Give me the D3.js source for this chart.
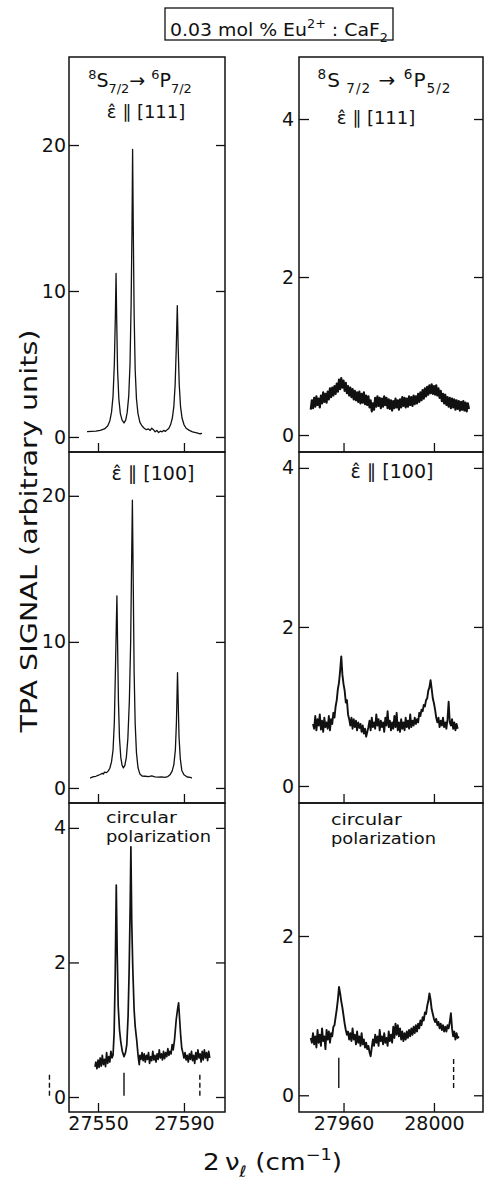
<!DOCTYPE html>
<html><head><meta charset="utf-8">
<script src="https://cdn.jsdelivr.net/npm/d3@7"></script>
<style>
body{margin:0;background:#fff}
svg{display:block}
text{font-family:"DejaVu Sans",sans-serif;fill:#111}
</style>
</head><body>
<svg id="chart" width="487" height="1182"></svg>
<script>
// ---------------- data ----------------
const xTicksLeft = [27550, 27590];
const xTicksRight = [27960, 28000];
const yTicksLarge = [0, 10, 20];
const yTicksSmall = [0, 2, 4];
const yTicksBottomRight = [0, 2];

// 8S7/2 -> 6P7/2, e || [111]
const specL111 = [[27544.9,.36],[27547,.38],[27549,.40],[27551,.45],[27553,.55],[27554.5,.75],[27555.5,1.1],[27556.3,1.7],[27557,2.8],[27557.6,5],[27558.1,8.5],[27558.4,11.2],[27558.7,8],[27559.1,4.6],[27559.7,2.6],[27560.4,1.6],[27561.2,1.15],[27562.1,.96],[27562.9,1.15],[27563.6,1.7],[27564.3,2.8],[27564.9,5],[27565.4,9],[27565.8,14],[27566.1,19.7],[27566.4,14.5],[27566.8,8.5],[27567.3,4.6],[27567.9,2.6],[27568.6,1.6],[27569.5,1.0],[27570.5,.75],[27571.5,.6],[27572.5,.5],[27573.5,.55],[27574.3,.45],[27575,.6],[27575.8,.5],[27576.6,.35],[27577.4,.45],[27578.2,.3],[27579,.4],[27579.8,.35],[27580.6,.45],[27581.4,.38],[27582.2,.5],[27583,.6],[27583.8,.85],[27584.6,1.3],[27585.3,2.1],[27585.9,3.6],[27586.4,6],[27586.9,9.0],[27587.3,6.2],[27587.8,3.6],[27588.4,2.1],[27589.1,1.3],[27590,.85],[27591,.6],[27592.5,.45],[27594,.35],[27596,.28],[27597.5,.22],[27598.4,.25]];

// 8S7/2 -> 6P7/2, e || [100]
const specL100 = [[27546.3,.68],[27547,.72],[27548,.78],[27549,.8],[27550,.86],[27551,.92],[27552,1.0],[27552.5,.95],[27553,1.08],[27554,1.05],[27554.7,1.15],[27555.5,1.35],[27556.3,1.8],[27557,2.6],[27557.6,4.5],[27558.1,8],[27558.5,11],[27558.8,13.15],[27559.1,10],[27559.5,6],[27560,3.4],[27560.6,2.1],[27561.2,1.55],[27561.8,1.37],[27562.5,1.55],[27563.2,2.1],[27563.9,3.4],[27564.6,6],[27565.2,10],[27565.6,15],[27566,19.7],[27566.4,14],[27566.8,8],[27567.3,4.4],[27567.9,2.4],[27568.6,1.4],[27569.5,.95],[27570.5,.82],[27572,.8],[27573.5,.78],[27575,.82],[27576.5,.76],[27578,.74],[27579.5,.76],[27581,.72],[27582.5,.78],[27583.5,.9],[27584.5,1.15],[27585.3,1.6],[27586,2.6],[27586.5,4.5],[27586.8,6.5],[27587,7.9],[27587.3,6],[27587.7,3.5],[27588.3,2],[27589,1.2],[27590,.9],[27591.5,.75],[27593,.72],[27593.7,.68]];

// 8S7/2 -> 6P7/2, circular polarization
const specLcirc = [[27548.6,.45],[27549,.52],[27549.5,.42],[27550,.55],[27550.5,.44],[27551,.58],[27551.5,.46],[27552,.62],[27552.5,.48],[27553,.56],[27553.5,.45],[27554,.66],[27554.5,.50],[27555,.60],[27555.5,.52],[27556,.68],[27556.5,.58],[27557,.62],[27557.5,.95],[27558,1.8],[27558.5,3.15],[27558.9,2.2],[27559.4,1.35],[27560,1.0],[27560.6,.82],[27561.3,.68],[27562.1,.6],[27562.8,.66],[27563.4,.78],[27564,1.2],[27564.5,1.9],[27565,2.9],[27565.3,3.72],[27565.7,2.6],[27566.2,1.9],[27566.8,1.3],[27567.3,1.05],[27568,.85],[27568.7,.6],[27569.2,.48],[27569.5,.62],[27570,.56],[27570.5,.66],[27571,.54],[27571.5,.64],[27572,.52],[27572.5,.62],[27573,.56],[27573.5,.66],[27574,.50],[27574.5,.60],[27575,.54],[27575.5,.68],[27576,.55],[27576.5,.62],[27577,.52],[27577.5,.64],[27578,.56],[27578.5,.70],[27579,.58],[27579.5,.64],[27580,.55],[27580.5,.68],[27581,.57],[27581.5,.66],[27582,.60],[27582.5,.72],[27583,.62],[27583.5,.68],[27584,.64],[27584.5,.78],[27585,.70],[27585.6,.85],[27586.4,1.15],[27587,1.3],[27587.5,1.4],[27588,1.15],[27588.5,.9],[27589,.72],[27589.5,.66],[27590,.58],[27590.5,.66],[27591,.55],[27591.5,.62],[27592,.52],[27592.5,.64],[27593,.56],[27593.5,.68],[27594,.54],[27594.5,.62],[27595,.50],[27595.5,.66],[27596,.56],[27596.5,.70],[27597,.58],[27597.5,.64],[27598,.52],[27598.5,.68],[27599,.55],[27599.5,.70],[27600,.58],[27600.5,.66],[27601,.54],[27601.5,.68],[27602,.58]];

// 8S7/2 -> 6P5/2, e || [111]
const specR111 = [[27945.5,.32],[27946,.44],[27946.5,.34],[27947,.47],[27947.5,.36],[27948,.49],[27948.5,.38],[27949,.46],[27949.5,.35],[27950,.50],[27950.5,.40],[27951,.54],[27951.5,.42],[27952,.52],[27952.5,.41],[27953,.55],[27953.5,.45],[27954,.59],[27954.5,.48],[27955,.60],[27955.5,.50],[27956,.62],[27956.5,.52],[27957,.65],[27957.5,.55],[27958,.70],[27958.5,.58],[27959,.72],[27959.5,.60],[27960,.69],[27960.5,.56],[27961,.66],[27961.5,.53],[27962,.62],[27962.5,.50],[27963,.60],[27963.5,.48],[27964,.58],[27964.5,.45],[27965,.56],[27965.5,.44],[27966,.54],[27966.5,.42],[27967,.55],[27967.5,.40],[27968,.52],[27968.5,.41],[27969,.54],[27969.5,.39],[27970,.50],[27970.5,.38],[27971,.49],[27971.5,.35],[27972,.44],[27972.5,.30],[27973,.40],[27973.5,.32],[27974,.47],[27974.5,.36],[27975,.49],[27975.5,.37],[27976,.47],[27976.5,.34],[27977,.46],[27977.5,.36],[27978,.49],[27978.5,.38],[27979,.47],[27979.5,.34],[27980,.45],[27980.5,.33],[27981,.44],[27981.5,.31],[27982,.43],[27982.5,.34],[27983,.46],[27983.5,.35],[27984,.44],[27984.5,.32],[27985,.45],[27985.5,.35],[27986,.48],[27986.5,.37],[27987,.47],[27987.5,.35],[27988,.46],[27988.5,.36],[27989,.49],[27989.5,.38],[27990,.48],[27990.5,.37],[27991,.50],[27991.5,.39],[27992,.49],[27992.5,.40],[27993,.52],[27993.5,.42],[27994,.54],[27994.5,.44],[27995,.57],[27995.5,.46],[27996,.59],[27996.5,.49],[27997,.61],[27997.5,.51],[27998,.63],[27998.5,.53],[27999,.64],[27999.5,.52],[28000,.62],[28000.5,.51],[28001,.63],[28001.5,.50],[28002,.59],[28002.5,.47],[28003,.56],[28003.5,.43],[28004,.52],[28004.5,.40],[28005,.51],[28005.5,.38],[28006,.48],[28006.5,.36],[28007,.47],[28007.5,.34],[28008,.46],[28008.5,.35],[28009,.45],[28009.5,.32],[28010,.44],[28010.5,.33],[28011,.43],[28011.5,.31],[28012,.42],[28012.5,.32],[28013,.43],[28013.5,.31],[28014,.41],[28014.5,.30],[28015,.40],[28015.5,.33]];

// 8S7/2 -> 6P5/2, e || [100]
const specR100 = [[27946.5,.78],[27947,.72],[27947.5,.88],[27948,.70],[27948.5,.84],[27949,.76],[27949.5,.90],[27950,.71],[27950.5,.82],[27951,.68],[27951.5,.86],[27952,.74],[27952.5,.80],[27953,.72],[27953.5,.88],[27954,.70],[27954.5,.84],[27955,.78],[27955.5,.92],[27956,.86],[27956.5,1.00],[27957,1.08],[27957.5,1.22],[27958,1.30],[27958.5,1.45],[27959,1.63],[27959.5,1.40],[27960,1.28],[27960.5,1.20],[27961,1.05],[27961.5,1.08],[27962,.90],[27962.5,.84],[27963,.76],[27963.5,.86],[27964,.72],[27964.5,.84],[27965,.74],[27965.5,.82],[27966,.70],[27966.5,.80],[27967,.73],[27967.5,.78],[27968,.68],[27968.5,.76],[27969,.66],[27969.5,.72],[27970,.62],[27970.5,.68],[27971,.74],[27971.5,.82],[27972,.70],[27972.5,.86],[27973,.74],[27973.5,.80],[27974,.72],[27974.5,.90],[27975,.76],[27975.5,.84],[27976,.70],[27976.5,.82],[27977,.74],[27977.5,.80],[27978,.68],[27978.5,.86],[27979,.76],[27979.5,.94],[27980,.74],[27980.5,.82],[27981,.70],[27981.5,.80],[27982,.72],[27982.5,.88],[27983,.74],[27983.5,.92],[27984,.70],[27984.5,.80],[27985,.68],[27985.5,.84],[27986,.72],[27986.5,.80],[27987,.70],[27987.5,.86],[27988,.74],[27988.5,.82],[27989,.72],[27989.5,.90],[27990,.74],[27990.5,.82],[27991,.76],[27991.5,.86],[27992,.78],[27992.5,.84],[27993,.80],[27993.5,.92],[27994,.88],[27994.5,.96],[27995,.94],[27995.5,1.02],[27996,1.00],[27996.5,1.08],[27997,1.10],[27997.5,1.20],[27998,1.24],[27998.5,1.33],[27999,1.22],[27999.5,1.10],[28000,1.04],[28000.5,.96],[28001,.86],[28001.5,.80],[28002,.86],[28002.5,.74],[28003,.82],[28003.5,.76],[28004,.86],[28004.5,.74],[28005,.80],[28005.5,.72],[28006,.84],[28006.5,1.06],[28007,.80],[28007.5,.76],[28008,.84],[28008.5,.72],[28009,.80],[28009.5,.70],[28010,.78],[28010.5,.72]];

// 8S7/2 -> 6P5/2, circular polarization
const specRcirc = [[27945.5,.72],[27946,.66],[27946.5,.78],[27947,.64],[27947.5,.74],[27948,.60],[27948.5,.82],[27949,.66],[27949.5,.76],[27950,.62],[27950.5,.84],[27951,.68],[27951.5,.74],[27952,.58],[27952.5,.82],[27953,.70],[27953.5,.80],[27954,.66],[27954.5,.78],[27955,.74],[27955.5,.86],[27956,.88],[27956.5,.98],[27957,1.08],[27957.5,1.20],[27958,1.36],[27958.5,1.28],[27959,1.18],[27959.5,1.10],[27960,1.00],[27960.5,.90],[27961,.82],[27961.5,.76],[27962,.80],[27962.5,.70],[27963,.78],[27963.5,.68],[27964,.84],[27964.5,.70],[27965,.76],[27965.5,.64],[27966,.80],[27966.5,.66],[27967,.74],[27967.5,.62],[27968,.78],[27968.5,.64],[27969,.70],[27969.5,.60],[27970,.66],[27970.5,.58],[27971,.62],[27971.5,.54],[27972,.49],[27972.5,.60],[27973,.70],[27973.5,.62],[27974,.76],[27974.5,.66],[27975,.74],[27975.5,.62],[27976,.82],[27976.5,.68],[27977,.74],[27977.5,.64],[27978,.78],[27978.5,.66],[27979,.72],[27979.5,.62],[27980,.80],[27980.5,.68],[27981,.76],[27981.5,.66],[27982,.86],[27982.5,.72],[27983,.90],[27983.5,.76],[27984,.88],[27984.5,.74],[27985,.84],[27985.5,.70],[27986,.80],[27986.5,.68],[27987,.78],[27987.5,.70],[27988,.80],[27988.5,.72],[27989,.82],[27989.5,.74],[27990,.84],[27990.5,.76],[27991,.86],[27991.5,.78],[27992,.88],[27992.5,.80],[27993,.90],[27993.5,.84],[27994,.94],[27994.5,.88],[27995,.98],[27995.5,.94],[27996,1.04],[27996.5,1.02],[27997,1.12],[27997.5,1.18],[27998,1.28],[27998.5,1.20],[27999,1.08],[27999.5,1.02],[28000,.96],[28000.5,.92],[28001,.96],[28001.5,.88],[28002,.92],[28002.5,.84],[28003,.90],[28003.5,.82],[28004,.88],[28004.5,.80],[28005,.86],[28005.5,.80],[28006,.88],[28006.5,.84],[28007,.92],[28007.5,1.03],[28008,.84],[28008.5,.74],[28009,.80],[28009.5,.70],[28010,.78],[28010.5,.72],[28011,.74]];

// line-position markers under the circular-polarization traces
const marksSolidLeft = [27562.1];
const marksDashedLeft = [27527.4, 27597.4];
const marksSolidRight = [27957.9];
const marksDashedRight = [28008.7];
const markSpanLeft = [0.02, 0.36];
const markSpanRight = [0.09, 0.47];

const titleParts = [["0.03 mol % Eu","n"],["2+","sup"],[" : CaF","n"],["2","sub"]];
const headL1 = [["8","sup"],["S","n"],["7/2","sub"],["\u2192 ","n"],["6","sup"],["P","n"],["7/2","sub"]];
const headR1 = [["8","sup"],["S","n"],[" 7/2","sub"],[" \u2192 ","n"],["6","sup"],["P","n"],["5/2","sub"]];
const head111 = "\u03B5\u0302 \u2225 [111]";
const head100 = "\u03B5\u0302 \u2225 [100]";
const headCirc = ["circular", "polarization"];
const yTitle = "TPA SIGNAL (arbitrary units)";
const xTitleParts = [["2\u2009\u03BD","n"],["\u2113","sub"],[" (cm","n"],["\u22121","sup"],[")","n"]];

// ---------------- layout ----------------
const svg = d3.select("#chart");
const colL = [69, 225], colR = [299, 483];
const rows = [[57, 452], [452, 803], [803, 1112]];
const xL = d3.scaleLinear().domain([27536.5, 27609.1]).range(colL);
const xR = d3.scaleLinear().domain([27940.3, 28021.7]).range(colR);

const panels = [
  {col: colL, x: xL, xt: xTicksLeft, row: rows[0], data: specL111, yDom: [-1.03, 26.03], yt: yTicksLarge, pad: 3, sw: 1.3},
  {col: colL, x: xL, xt: xTicksLeft, row: rows[1], data: specL100, yDom: [-1.03, 23.0], yt: yTicksLarge, pad: 3, sw: 1.3},
  {col: colL, x: xL, xt: xTicksLeft, row: rows[2], data: specLcirc, yDom: [-0.223, 4.37], yt: yTicksSmall, pad: 3, sw: 1.7, labels: true,
   solid: marksSolidLeft, dashed: marksDashedLeft, span: markSpanLeft},
  {col: colR, x: xR, xt: xTicksRight, row: rows[0], data: specR111, yDom: [-0.215, 4.785], yt: yTicksSmall, pad: 5, sw: 2.2},
  {col: colR, x: xR, xt: xTicksRight, row: rows[1], data: specR100, yDom: [-0.214, 4.2], yt: yTicksSmall, pad: 5, sw: 1.9},
  {col: colR, x: xR, xt: xTicksRight, row: rows[2], data: specRcirc, yDom: [-0.21, 3.67], yt: yTicksBottomRight, pad: 5, sw: 1.9, labels: true,
   solid: marksSolidRight, dashed: marksDashedRight, span: markSpanRight},
];

function styleAxis(g) {
  g.select(".domain").remove();
  g.selectAll(".tick line").attr("stroke", "#111").attr("stroke-width", 1.3);
  g.selectAll(".tick text").attr("font-size", 19).attr("fill", "#111")
    .attr("font-family", "DejaVu Sans, sans-serif");
}

panels.forEach(p => {
  const y = d3.scaleLinear().domain(p.yDom).range([p.row[1], p.row[0]]);
  svg.append("g").attr("transform", `translate(${p.col[0]},0)`)
    .call(d3.axisLeft(y).tickValues(p.yt).tickSize(-10).tickSizeOuter(0).tickPadding(p.pad).tickFormat(d3.format("d")))
    .call(styleAxis);
  svg.append("g").attr("transform", `translate(${p.col[1]},0)`)
    .call(d3.axisRight(y).tickValues(p.yt).tickSize(-9).tickSizeOuter(0).tickFormat(""))
    .call(styleAxis);
  svg.append("g").attr("transform", `translate(0,${p.row[1]})`)
    .call(d3.axisBottom(p.x).tickValues(p.xt).tickSize(-9).tickSizeOuter(0).tickPadding(5)
      .tickFormat(p.labels ? d3.format("d") : ""))
    .call(styleAxis);
  svg.append("rect").attr("x", p.col[0]).attr("y", p.row[0])
    .attr("width", p.col[1] - p.col[0]).attr("height", p.row[1] - p.row[0])
    .attr("fill", "none").attr("stroke", "#111").attr("stroke-width", 1.5);
  const line = d3.line().x(d => p.x(d[0])).y(d => y(d[1]));
  svg.append("path").datum(p.data).attr("d", line)
    .attr("fill", "none").attr("stroke", "#111")
    .attr("stroke-width", p.sw).attr("stroke-linejoin", "round");
  if (p.solid) {
    svg.selectAll(null).data(p.solid).enter().append("line")
      .attr("x1", d => p.x(d)).attr("x2", d => p.x(d))
      .attr("y1", y(p.span[0])).attr("y2", y(p.span[1]))
      .attr("stroke", "#111").attr("stroke-width", 1.4);
    svg.selectAll(null).data(p.dashed).enter().append("line")
      .attr("x1", d => p.x(d)).attr("x2", d => p.x(d))
      .attr("y1", y(p.span[0])).attr("y2", y(p.span[1]))
      .attr("stroke", "#111").attr("stroke-width", 1.4).attr("stroke-dasharray", "5,3");
  }
});

function rich(x, y, anchor, parts, base) {
  const t = svg.append("text").attr("x", x).attr("y", y)
    .attr("text-anchor", anchor).attr("font-size", base);
  let cur = 0;
  parts.forEach(([s, k]) => {
    const off = k === "sup" ? -0.42 * base : k === "sub" ? 0.3 * base : 0;
    t.append("tspan").attr("dy", off - cur).attr("font-size", k === "n" ? base : base * 0.68).text(s);
    cur = off;
  });
  return t;
}

// title box
svg.append("rect").attr("x", 165).attr("y", 8).attr("width", 228).attr("height", 32)
  .attr("fill", "none").attr("stroke", "#111").attr("stroke-width", 1.3);
rich(279, 36, "middle", titleParts, 18.5).attr("textLength", 218).attr("lengthAdjust", "spacingAndGlyphs");

// panel headers
rich(140, 87, "middle", headL1, 19);
rich(384, 87, "middle", headR1, 20).attr("textLength", 133).attr("lengthAdjust", "spacing");
svg.append("text").attr("x", 146).attr("y", 118).attr("text-anchor", "middle").attr("font-size", 18).text(head111);
svg.append("text").attr("x", 376).attr("y", 124).attr("text-anchor", "middle").attr("font-size", 18).text(head111);
svg.append("text").attr("x", 153).attr("y", 480).attr("text-anchor", "middle").attr("font-size", 19).text(head100);
svg.append("text").attr("x", 392).attr("y", 478).attr("text-anchor", "middle").attr("font-size", 19).text(head100);
[[106, 823], [331, 825]].forEach(([x, y]) => {
  svg.append("text").attr("x", x).attr("y", y).attr("font-size", 15.5)
    .attr("textLength", 71).attr("lengthAdjust", "spacingAndGlyphs").text(headCirc[0]);
  svg.append("text").attr("x", x).attr("y", y + 18.5).attr("font-size", 15.5)
    .attr("textLength", 105).attr("lengthAdjust", "spacingAndGlyphs").text(headCirc[1]);
});

// axis titles
svg.append("text").attr("transform", "translate(37,531) rotate(-90)")
  .attr("text-anchor", "middle").attr("font-size", 23)
  .attr("textLength", 403).attr("lengthAdjust", "spacingAndGlyphs").text(yTitle);
rich(203, 1170, "start", xTitleParts, 23).attr("textLength", 139).attr("lengthAdjust", "spacingAndGlyphs");
</script>
</body></html>
